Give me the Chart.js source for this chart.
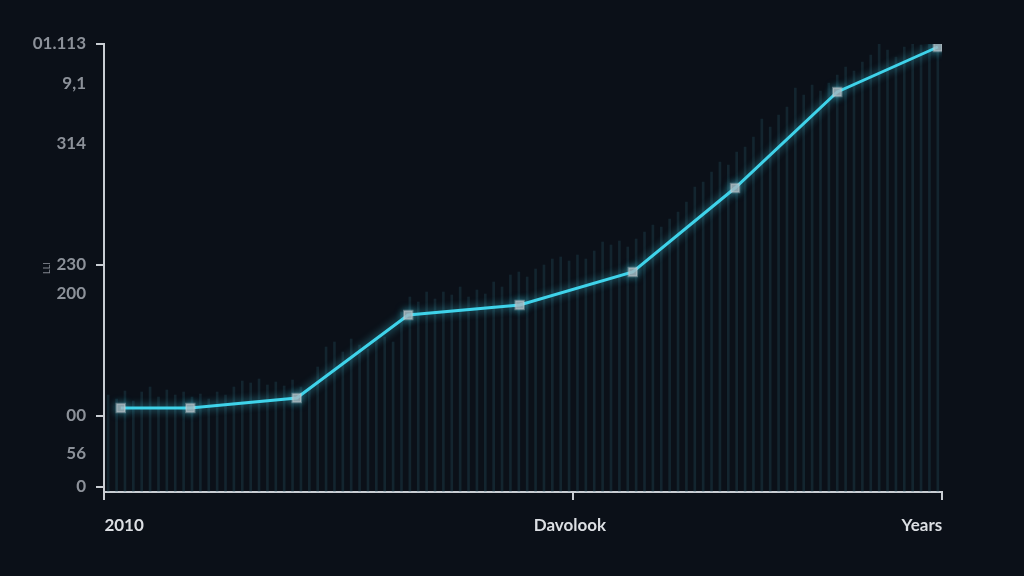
<!DOCTYPE html>
<html>
<head>
<meta charset="utf-8">
<script src="https://cdn.jsdelivr.net/npm/chart.js@4.4.1/dist/chart.umd.min.js"></script>
<style>
  html, body { margin: 0; padding: 0; background: #0b1018; }
  #wrap { width: 1024px; height: 576px; }
</style>
</head>
<body>
<div id="wrap"><canvas id="myChart" width="1024" height="576"></canvas></div>
<script>
// main series (x position along the axis, value)
const pointX = [2.0, 10.3, 23.0, 36.3, 49.6, 63.1, 75.3, 87.5, 99.5];
const pointY = [79, 79, 89, 172, 182, 215, 299, 395, 440];

// faint background bars, one per step along x
const barX = [];
for (let i = 0; i < 100; i++) barX.push(i + 0.5);
const barY = [
  92, 88, 96, 86, 95, 100, 90, 97, 92, 95,
  90, 93, 88, 95, 92, 100, 106, 104, 108, 102,
  105, 101, 107, 100, 98, 120, 140, 145, 135, 148,
  142, 138, 147, 150, 145, 175, 190, 185, 195, 188,
  195, 192, 200, 190, 197, 193, 205, 200, 212, 215,
  210, 218, 222, 228, 230, 226, 232, 228, 236, 245,
  242, 246, 240, 248, 255, 262, 260, 268, 275, 285,
  300, 305, 315, 325, 322, 335, 340, 350, 368, 360,
  372, 380, 399, 392, 402, 396, 404, 412, 420, 416,
  425, 432, 455, 437, 430, 440, 445, 442, 448, 446
];

// axis ticks
const yTickValues = [0, 33, 71, 193, 222, 343, 403, 443];
const yTickLabels = ["0", "56", "00", "200", "230", "314", "9,1", "01.113"];
const yTickMarked = [0, 71, 222, 443];
const xMarkValues = [0, 56, 100];
const xLabelValues = [2.4, 55.6, 97.6];
const xLabels = ["2010", "Davolook", "Years"];

const glow = {
  id: "glow",
  beforeDatasetDraw(chart, args) {
    if (args.index !== 0) return;
    const ctx = chart.ctx;
    ctx.save();
    ctx.shadowColor = "rgba(70, 215, 240, 0.7)";
    ctx.shadowBlur = 8;
  },
  afterDatasetDraw(chart, args) {
    if (args.index !== 0) return;
    chart.ctx.restore();
  }
};

const axisColor = "#c9cdd3";

const ctx = document.getElementById("myChart").getContext("2d");
new Chart(ctx, {
  type: "bar",
  data: {
    datasets: [{
      type: "line",
      label: "Line",
      data: pointX.map((x, i) => ({ x: x, y: pointY[i] })),
      borderColor: "#3fd3ea",
      borderWidth: 3,
      pointStyle: "rect",
      pointRadius: 6,
      pointBackgroundColor: "rgba(175, 180, 186, 0.8)",
      pointBorderColor: "rgba(210, 214, 218, 0.35)",
      pointBorderWidth: 2,
      tension: 0,
      order: 0,
      xAxisID: "x",
      yAxisID: "y"
    }, {
      type: "bar",
      label: "Bars",
      data: barX.map((x, i) => ({ x: x, y: barY[i] })),
      backgroundColor: "rgba(45, 100, 115, 0.25)",
      barThickness: 2,
      base: -5,
      order: 1,
      xAxisID: "x",
      yAxisID: "y"
    }]
  },
  options: {
    responsive: false,
    animation: false,
    layout: { padding: { top: 44, right: 82, left: 0, bottom: 0 } },
    plugins: {
      legend: { display: false },
      tooltip: { enabled: false }
    },
    scales: {
      x: {
        type: "linear",
        min: 0,
        max: 100,
        offset: false,
        position: "bottom",
        border: { display: true, color: axisColor, width: 2 },
        grid: { offset: false, drawOnChartArea: false, drawTicks: true, tickLength: 8, color: axisColor, tickColor: axisColor, lineWidth: 2 },
        ticks: { display: false },
        afterBuildTicks: (scale) => { scale.ticks = xMarkValues.map(v => ({ value: v })); },
        afterFit: (scale) => { scale.height = 10; }
      },
      x2: {
        type: "linear",
        min: 0,
        max: 100,
        offset: false,
        position: "bottom",
        border: { display: false },
        grid: { display: false, drawTicks: false, offset: false },
        ticks: {
          padding: 13,
          autoSkip: false,
          maxRotation: 0,
          color: "#dcdfe3",
          font: { family: "Lato", size: 17, weight: "bold" },
          callback: (v) => {
            const i = xLabelValues.indexOf(v);
            return i >= 0 ? xLabels[i] : "";
          }
        },
        afterBuildTicks: (scale) => { scale.ticks = xLabelValues.map(v => ({ value: v })); },
        afterFit: (scale) => { scale.height = 74; }
      },
      y: {
        type: "linear",
        min: -5,
        max: 443,
        border: { display: true, color: axisColor, width: 2 },
        grid: {
          drawOnChartArea: false,
          drawTicks: true,
          tickLength: 8,
          lineWidth: 2,
          tickColor: (c) => yTickMarked.includes(c.tick.value) ? axisColor : "rgba(0,0,0,0)"
        },
        title: {
          display: true,
          text: "LLI",
          color: "#80858d",
          font: { family: "Lato", size: 9 },
          padding: { top: 42, bottom: 0 }
        },
        ticks: {
          padding: 10,
          autoSkip: false,
          color: "#8c9199",
          font: { family: "Lato", size: 17, weight: "bold" },
          callback: (v) => {
            const i = yTickValues.indexOf(v);
            return i >= 0 ? yTickLabels[i] : "";
          }
        },
        afterBuildTicks: (scale) => { scale.ticks = yTickValues.map(v => ({ value: v })); },
        afterFit: (scale) => { scale.width = 104; }
      }
    }
  },
  plugins: [glow]
});
</script>
</body>
</html>
